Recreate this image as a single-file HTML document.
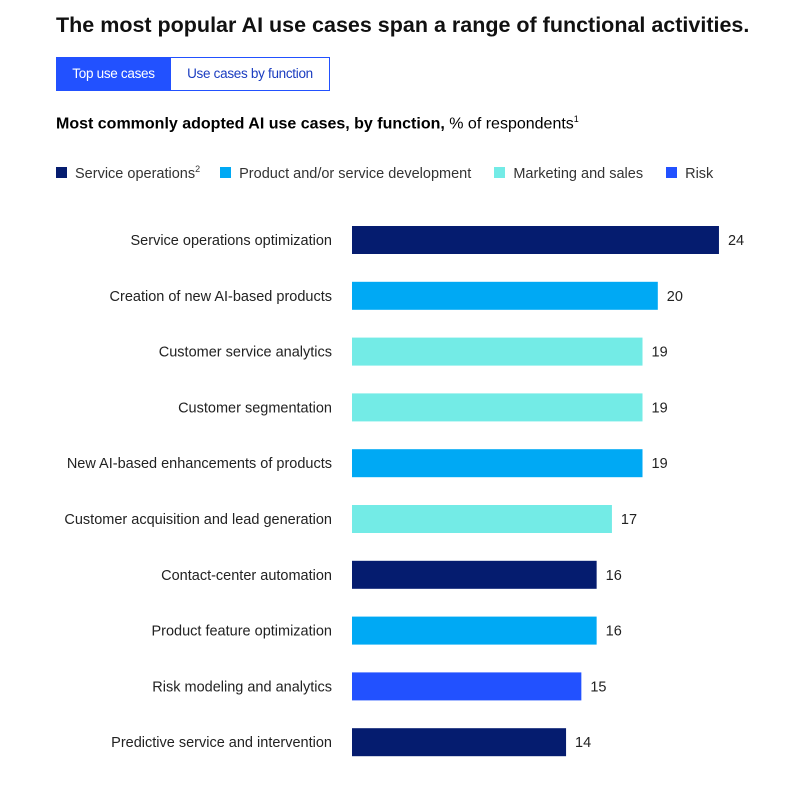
<!DOCTYPE html>
<html><head><meta charset="utf-8"><style>
body{margin:0;background:#fff;font-family:"Liberation Sans",sans-serif;color:#000;}
#root{position:relative;width:801px;height:797px;overflow:hidden;}
.abs{position:absolute;white-space:nowrap;}
</style></head><body><div id="root">
<div class="abs" style="left:56px;top:13px;font-size:21.5px;font-weight:bold;color:#111;">The most popular AI use cases span a range of functional activities.</div>
<div class="abs" style="left:56px;top:57px;width:115px;height:34px;background:#2251ff;color:#fff;font-size:13.5px;line-height:34px;text-align:center;letter-spacing:-0.3px;">Top use cases</div>
<div class="abs" style="left:171px;top:57px;width:158px;height:32px;border:1px solid #2251ff;border-left:none;color:#1a3cc0;font-size:13.5px;line-height:32px;text-align:center;letter-spacing:-0.3px;">Use cases by function</div>
<div class="abs" style="left:56px;top:114px;font-size:16px;"><b>Most commonly adopted AI use cases, by function,</b> % of respondents<sup style="font-size:9px">1</sup></div>
<div class="abs" style="left:56px;top:164px;font-size:14.5px;color:#333;">
<span><span style="display:inline-block;width:11px;height:11px;background:#051c6f;margin-right:8px"></span>Service operations<sup style="font-size:9px">2</sup></span>
<span style="margin-left:16px"><span style="display:inline-block;width:11px;height:11px;background:#00a9f4;margin-right:8px"></span>Product and/or service development</span>
<span style="margin-left:19px"><span style="display:inline-block;width:11px;height:11px;background:#73ebe6;margin-right:8px"></span>Marketing and sales</span>
<span style="margin-left:19px"><span style="display:inline-block;width:11px;height:11px;background:#2251ff;margin-right:8px"></span>Risk</span>
</div>
<svg id="chart" width="801" height="797" style="position:absolute;left:0;top:0"></svg>
</div>
<script>
const categories=["Service operations optimization","Creation of new AI-based products","Customer service analytics","Customer segmentation","New AI-based enhancements of products","Customer acquisition and lead generation","Contact-center automation","Product feature optimization","Risk modeling and analytics","Predictive service and intervention"];
const values=[24,20,19,19,19,17,16,16,15,14];
const functions=["service","product","marketing","marketing","product","marketing","service","product","risk","service"];
const colors={service:"#051c6f",product:"#00a9f4",marketing:"#73ebe6",risk:"#2251ff"};
const svg=document.getElementById('chart');
const NS="http://www.w3.org/2000/svg";
const x0=352,pxPerUnit=15.29;
const xScale=v=>x0+v*pxPerUnit;
const yScale=i=>240+i*55.8;
const barH=28;
categories.forEach((c,i)=>{
 const yc=yScale(i);
 const r=document.createElementNS(NS,'rect');
 r.setAttribute('x',x0);r.setAttribute('y',yc-barH/2);
 r.setAttribute('width',xScale(values[i])-x0);r.setAttribute('height',barH);
 r.setAttribute('fill',colors[functions[i]]);
 
 
 svg.appendChild(r);
 const t=document.createElementNS(NS,'text');
 t.setAttribute('x',332);t.setAttribute('y',yc+5);t.setAttribute('text-anchor','end');
 t.setAttribute('font-size','14.5');t.setAttribute('fill','#222');
 t.setAttribute('font-family','Liberation Sans, sans-serif');
 t.textContent=c;
 
 
 svg.appendChild(t);
 const v=document.createElementNS(NS,'text');
 v.setAttribute('x',xScale(values[i])+9);v.setAttribute('y',yc+5);
 v.setAttribute('font-size','14.5');v.setAttribute('fill','#222');
 v.setAttribute('font-family','Liberation Sans, sans-serif');
 v.textContent=values[i];
 
 
 svg.appendChild(v);
});
</script>
</body></html>
